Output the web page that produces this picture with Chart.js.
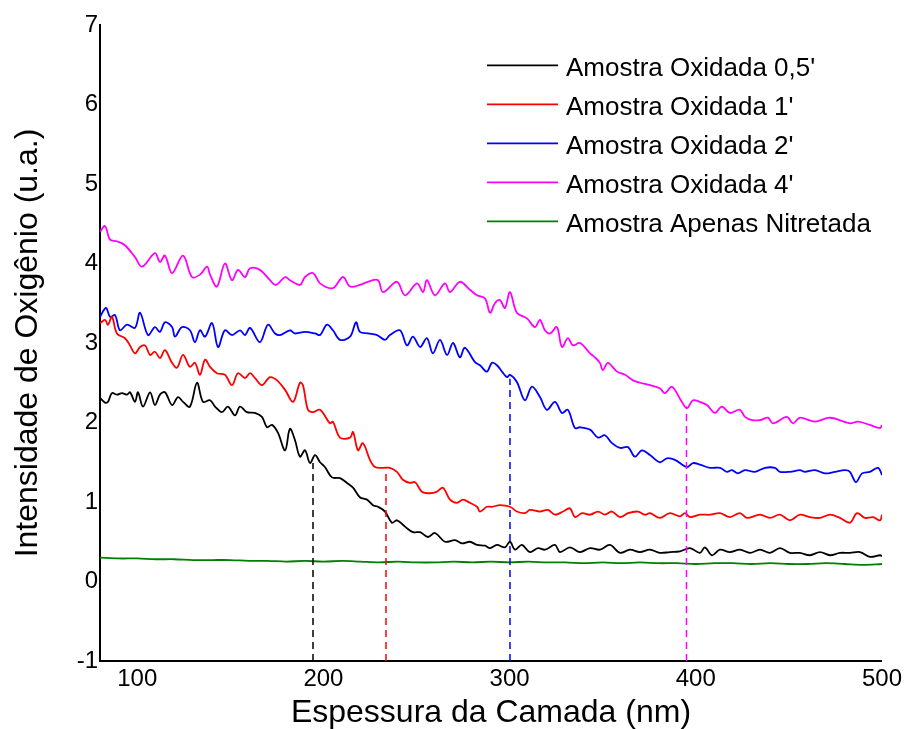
<!DOCTYPE html>
<html lang="pt">
<head>
<meta charset="UTF-8">
<title>Intensidade de Oxigênio x Espessura</title>
<style>
  body { margin: 0; background: #fff; }
  #grafico { display: block; }
</style>
</head>
<body>

<canvas id="grafico" width="906" height="729"></canvas>

<script src="https://cdn.jsdelivr.net/npm/chart.js"></script>
<script>
// eixos
const xTicks = [100, 200, 300, 400, 500]
const yTicks = [-1, 0, 1, 2, 3, 4, 5, 6, 7]

const nomes = ["Amostra Oxidada 0,5'", "Amostra Oxidada 1'", "Amostra Oxidada 2'", "Amostra Oxidada 4'", "Amostra Apenas Nitretada"]
const cores = ['#000000', '#ff0000', '#0000ff', '#ff00ff', '#008000']

// Oxidada 0,5'
const x05 = [80.0, 82.7, 84.3, 86.4, 89.1, 91.8, 94.5, 96.1, 98.8, 100.4, 103.1, 106.9, 109.5, 112.2, 114.9, 118.7, 121.9, 124.6, 128.3, 132.1,
  135.3, 139.1, 141.8, 145.5, 148.7, 152.5, 155.2, 158.9, 163.2, 167.0, 169.7, 172.4, 175.6, 179.4, 182.0, 184.7, 187.4, 190.1, 192.8, 195.5,
  198.2, 200.8, 204.6, 208.9, 212.7, 215.9, 219.6, 223.4, 226.6, 229.3, 233.1, 236.8, 239.5, 243.8, 248.1, 251.9, 256.2, 259.9, 265.3, 270.7,
  274.4, 278.7, 282.5, 286.8, 289.5, 293.2, 297.5, 300.2, 302.9, 306.6, 310.9, 315.2, 319.0, 324.4, 327.0, 332.4, 337.8, 343.2, 348.5, 353.9,
  359.3, 364.6, 370.0, 375.4, 380.7, 386.1, 391.5, 396.9, 402.2, 404.9, 408.7, 413.0, 418.3, 423.7, 429.1, 434.5, 439.8, 445.2, 450.6, 455.9,
  461.3, 466.7, 472.1, 477.4, 482.8, 488.2, 493.5, 499.0, 500]
const y05 = [2.31, 2.25, 2.26, 2.37, 2.35, 2.37, 2.35, 2.38, 2.26, 2.38, 2.20, 2.38, 2.22, 2.35, 2.38, 2.22, 2.32, 2.26, 2.20, 2.50,
  2.26, 2.28, 2.20, 2.13, 2.20, 2.09, 2.20, 2.13, 2.12, 2.07, 1.94, 1.97, 1.87, 1.65, 1.92, 1.78, 1.57, 1.65, 1.49, 1.59,
  1.50, 1.44, 1.31, 1.30, 1.24, 1.18, 1.06, 1.03, 0.96, 0.94, 0.88, 0.74, 0.77, 0.69, 0.62, 0.62, 0.56, 0.61, 0.50, 0.52,
  0.48, 0.50, 0.46, 0.45, 0.42, 0.46, 0.43, 0.50, 0.40, 0.46, 0.37, 0.42, 0.40, 0.46, 0.37, 0.43, 0.37, 0.42, 0.40, 0.46,
  0.36, 0.40, 0.37, 0.40, 0.36, 0.37, 0.38, 0.42, 0.36, 0.43, 0.33, 0.40, 0.37, 0.40, 0.36, 0.40, 0.36, 0.42, 0.36, 0.36,
  0.33, 0.37, 0.33, 0.36, 0.36, 0.37, 0.31, 0.33, 0.32]

// Oxidada 1'
const x1 = [80.0, 82.7, 84.3, 86.4, 89.1, 93.4, 96.1, 98.8, 101.5, 104.2, 106.9, 109.5, 112.2, 114.9, 118.7, 121.4, 124.6, 128.3, 131.0, 133.7,
  136.4, 139.1, 142.8, 147.1, 150.9, 154.1, 157.9, 160.6, 163.2, 167.0, 171.3, 175.1, 179.4, 183.7, 187.4, 189.0, 191.7, 194.4, 198.2, 203.5,
  205.1, 208.9, 214.3, 215.9, 218.6, 221.2, 225.0, 227.7, 232.0, 235.7, 239.5, 242.7, 246.5, 249.2, 252.9, 257.2, 261.0, 264.2, 268.0, 271.7,
  274.9, 278.7, 282.5, 284.1, 287.8, 290.5, 294.8, 300.2, 303.9, 308.2, 310.9, 316.3, 320.6, 324.4, 328.7, 332.4, 335.1, 338.9, 343.2, 347.5,
  351.2, 355.0, 359.3, 363.6, 369.0, 372.7, 375.4, 380.7, 386.1, 391.5, 394.2, 396.9, 402.2, 407.6, 413.0, 418.3, 423.7, 427.4, 434.5, 439.8,
  445.2, 450.6, 455.9, 461.3, 466.7, 472.1, 477.4, 482.8, 486.6, 490.8, 495.2, 499.0, 500]
const y1 = [3.25, 3.29, 3.23, 3.33, 3.12, 3.06, 2.97, 2.87, 2.95, 2.97, 2.85, 2.89, 2.81, 2.91, 2.75, 2.69, 2.85, 2.70, 2.75, 2.60,
  2.79, 2.70, 2.62, 2.60, 2.47, 2.62, 2.56, 2.62, 2.56, 2.47, 2.57, 2.53, 2.41, 2.26, 2.50, 2.47, 2.16, 2.13, 2.16, 1.99,
  2.01, 1.81, 1.81, 1.88, 1.65, 1.74, 1.53, 1.44, 1.43, 1.43, 1.38, 1.28, 1.24, 1.25, 1.13, 1.11, 1.13, 1.18, 1.03, 0.99,
  1.03, 0.99, 0.94, 0.88, 0.94, 0.94, 0.96, 0.94, 0.88, 0.86, 0.90, 0.88, 0.90, 0.84, 0.88, 0.92, 0.81, 0.86, 0.84, 0.88,
  0.84, 0.88, 0.81, 0.86, 0.88, 0.84, 0.86, 0.80, 0.86, 0.82, 0.86, 0.81, 0.84, 0.84, 0.86, 0.81, 0.86, 0.80, 0.84, 0.80,
  0.84, 0.77, 0.84, 0.81, 0.80, 0.84, 0.80, 0.74, 0.86, 0.80, 0.81, 0.77, 0.84]

// Oxidada 2'
const x2 = [80.0, 83.2, 85.4, 88.1, 90.7, 94.5, 98.8, 101.5, 105.8, 109.5, 112.2, 114.9, 118.7, 120.3, 124.0, 128.3, 131.0, 133.7, 136.4, 140.2,
  143.4, 147.1, 150.9, 155.2, 157.9, 160.6, 165.9, 170.2, 174.0, 176.7, 182.0, 184.7, 190.1, 195.5, 198.2, 201.9, 205.1, 208.9, 214.3, 217.5,
  219.6, 223.9, 228.8, 233.1, 235.7, 241.1, 244.9, 248.1, 251.9, 255.6, 258.8, 262.6, 266.4, 269.6, 273.3, 276.0, 281.4, 284.1, 287.8, 290.5,
  293.2, 295.9, 298.6, 300.2, 303.9, 308.2, 312.0, 316.3, 320.0, 324.4, 328.1, 331.3, 335.1, 337.8, 343.2, 347.5, 351.2, 355.0, 359.3, 363.6,
  367.3, 371.1, 375.4, 380.7, 384.5, 388.8, 395.2, 398.5, 402.2, 407.6, 413.0, 416.7, 419.4, 422.6, 426.4, 431.8, 437.2, 442.5, 445.2, 450.6,
  455.9, 458.6, 464.0, 469.4, 474.8, 480.1, 482.8, 486.0, 489.3, 493.5, 497.9, 500]
const y2 = [3.33, 3.44, 3.33, 3.35, 3.16, 3.23, 3.19, 3.38, 3.10, 3.20, 3.14, 3.26, 3.20, 3.08, 3.20, 3.16, 3.01, 3.16, 3.08, 3.25,
  2.95, 3.16, 3.10, 3.16, 3.10, 3.19, 3.01, 3.23, 3.12, 3.10, 3.16, 3.12, 3.14, 3.12, 3.10, 3.23, 3.16, 3.04, 3.08, 3.26,
  3.14, 3.12, 3.10, 3.04, 3.10, 3.16, 2.97, 3.08, 2.95, 3.06, 2.87, 3.04, 2.85, 3.00, 2.82, 2.94, 2.76, 2.72, 2.64, 2.75,
  2.72, 2.64, 2.57, 2.60, 2.51, 2.28, 2.45, 2.32, 2.16, 2.26, 2.12, 2.16, 1.93, 1.94, 1.91, 1.81, 1.84, 1.74, 1.68, 1.69,
  1.57, 1.65, 1.59, 1.50, 1.55, 1.53, 1.44, 1.49, 1.47, 1.43, 1.43, 1.38, 1.40, 1.36, 1.40, 1.38, 1.43, 1.43, 1.38, 1.38,
  1.40, 1.38, 1.40, 1.36, 1.38, 1.40, 1.38, 1.25, 1.36, 1.38, 1.43, 1.34]

// Oxidada 4'
const x4 = [80.0, 82.7, 85.4, 89.1, 93.4, 98.8, 102.6, 109.5, 112.2, 114.9, 118.7, 124.6, 129.4, 133.7, 137.5, 139.1, 142.8, 147.1, 150.9, 154.1,
  157.9, 160.6, 165.9, 171.3, 174.5, 179.4, 182.0, 187.4, 190.1, 194.4, 198.2, 205.1, 210.5, 214.3, 219.6, 223.9, 229.3, 232.0, 239.5, 243.8,
  250.3, 253.5, 255.6, 259.9, 265.3, 268.0, 273.3, 278.7, 282.5, 286.8, 289.5, 292.1, 294.8, 297.5, 300.2, 303.9, 309.3, 313.6, 316.3, 319.0,
  321.7, 325.4, 328.1, 331.3, 334.0, 337.8, 343.2, 345.8, 348.5, 350.1, 352.8, 357.7, 362.0, 366.3, 370.0, 375.4, 380.7, 383.4, 387.2, 391.5,
  395.2, 398.5, 402.2, 406.0, 410.3, 414.0, 418.3, 423.7, 426.4, 430.2, 434.5, 438.8, 441.4, 448.9, 452.2, 455.9, 464.0, 472.1, 482.8, 487.1,
  493.5, 499.0, 500]
const y4 = [4.40, 4.47, 4.30, 4.28, 4.23, 4.08, 3.96, 4.13, 4.02, 4.10, 3.88, 4.10, 3.83, 3.86, 3.96, 3.86, 3.71, 4.00, 3.79, 3.92,
  3.83, 3.94, 3.92, 3.79, 3.73, 3.83, 3.79, 3.73, 3.83, 3.88, 3.75, 3.69, 3.83, 3.71, 3.73, 3.77, 3.79, 3.64, 3.77, 3.60,
  3.75, 3.64, 3.79, 3.60, 3.75, 3.64, 3.77, 3.67, 3.60, 3.56, 3.38, 3.50, 3.54, 3.44, 3.64, 3.38, 3.31, 3.20, 3.29, 3.16,
  3.12, 3.20, 2.95, 3.06, 2.97, 3.00, 2.87, 2.82, 2.75, 2.66, 2.75, 2.64, 2.60, 2.53, 2.50, 2.47, 2.43, 2.37, 2.45, 2.30,
  2.18, 2.28, 2.26, 2.22, 2.12, 2.20, 2.12, 2.16, 2.07, 2.03, 2.03, 2.06, 1.99, 2.07, 1.99, 2.06, 2.01, 2.06, 1.99, 2.01,
  1.97, 1.93, 1.97]

// Apenas Nitretada
const xNit = [80, 90, 100, 110, 120, 130, 140, 150, 160, 170, 180, 190, 200, 210, 220, 230, 240, 250, 260, 270, 280, 290,
  300, 310, 320, 330, 340, 350, 360, 370, 380, 390, 400, 410, 420, 430, 440, 450, 460, 470, 480, 490, 500]
const yNit = [0.30, 0.29, 0.29, 0.28, 0.28, 0.27, 0.27, 0.27, 0.26, 0.26, 0.25, 0.26, 0.25, 0.26, 0.25, 0.24, 0.25, 0.24, 0.24, 0.25, 0.24, 0.25,
  0.24, 0.25, 0.24, 0.24, 0.23, 0.24, 0.23, 0.24, 0.23, 0.23, 0.22, 0.23, 0.23, 0.22, 0.23, 0.22, 0.22, 0.23, 0.22, 0.21, 0.22]

// linhas tracejadas (espessura de cada camada)
const marcaX = [194.4, 233.6, 300.2, 395.0]
const marcaTopo = [1.49, 1.42, 2.55, 2.20]

const series = [[x05, y05], [x1, y1], [x2, y2], [x4, y4], [xNit, yNit]]

function pontos(xs, ys) {
  return xs.map((v, i) => ({ x: v, y: ys[i] }))
}

const datasets = []
for (let i = 0; i < marcaX.length; i++) {
  datasets.push({
    label: 'marca' + i,
    data: [{ x: marcaX[i], y: -1 }, { x: marcaX[i], y: marcaTopo[i] }],
    borderColor: cores[i],
    borderWidth: 1.5,
    borderDash: [7, 5],
    pointRadius: 0
  })
}
for (let i = 0; i < series.length; i++) {
  datasets.push({
    label: nomes[i],
    data: pontos(series[i][0], series[i][1]),
    borderColor: cores[i],
    borderWidth: 1.8,
    pointRadius: 0,
    tension: 0.35
  })
}

// legenda desenhada a mão, igual a do original
const legendaManual = {
  id: 'legendaManual',
  afterDraw(chart) {
    const ctx = chart.ctx
    ctx.save()
    ctx.font = '26px "Liberation Sans", Arial, sans-serif'
    ctx.textBaseline = 'alphabetic'
    for (let i = 0; i < nomes.length; i++) {
      const y = 65.3 + i * 39
      ctx.strokeStyle = cores[i]
      ctx.lineWidth = 1.8
      ctx.beginPath()
      ctx.moveTo(487, y)
      ctx.lineTo(558, y)
      ctx.stroke()
      ctx.fillStyle = '#000'
      ctx.fillText(nomes[i], 566, y + 11)
    }
    ctx.restore()
  }
}

Chart.defaults.font.family = '"Liberation Sans", Arial, sans-serif'
Chart.defaults.color = '#000'

const ctx = document.getElementById('grafico')

new Chart(ctx, {
  type: 'line',
  data: { datasets: datasets },
  options: {
    responsive: false,
    animation: false,
    layout: { padding: { top: 25, right: 23, left: 0, bottom: 0 } },
    plugins: {
      legend: { display: false },
      tooltip: { enabled: false }
    },
    scales: {
      x: {
        type: 'linear',
        min: 80,
        max: 500,
        afterBuildTicks: s => { s.ticks = xTicks.map(v => ({ value: v })) },
        afterFit: s => { s.height = 68 },
        grid: { display: false, drawTicks: false },
        border: { display: true, color: '#000', width: 2 },
        ticks: { font: { size: 24 }, padding: 4, maxRotation: 0, autoSkip: false },
        title: { display: true, text: 'Espessura da Camada (nm)', font: { size: 32 }, padding: { top: 0, bottom: -3 } }
      },
      y: {
        type: 'linear',
        min: -1,
        max: 7,
        afterBuildTicks: s => { s.ticks = yTicks.map(v => ({ value: v })) },
        afterFit: s => { s.width = 100 },
        grid: { display: false, drawTicks: false },
        border: { display: true, color: '#000', width: 2 },
        ticks: { font: { size: 24 }, padding: 2 },
        title: { display: true, text: 'Intensidade de Oxigênio (u.a.)', font: { size: 32 }, padding: { top: 9, bottom: 0 } }
      }
    }
  },
  plugins: [legendaManual]
})
</script>
</body>
</html>
